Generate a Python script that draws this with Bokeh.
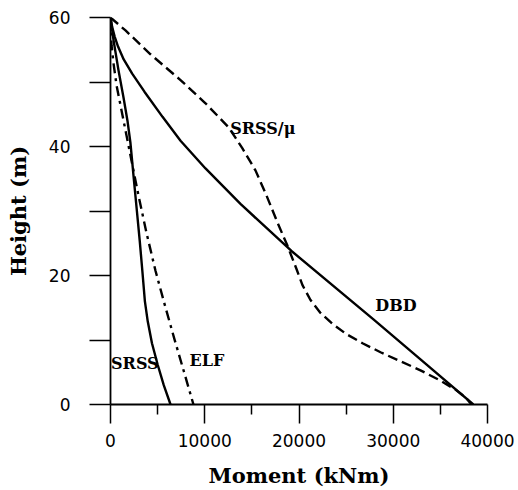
from bokeh.plotting import figure
from bokeh.models import Range1d, FixedTicker, ColumnDataSource
from bokeh.core.properties import value
from bokeh.embed import file_html
from bokeh.resources import INLINE

# Moment (kNm) vs height (m)
dbd_y = [60, 58.5, 57.0, 55.5, 53.5, 51.3, 48.5, 44.6, 40.9, 36.6, 31.1, 23.8, 13.2, 7.0, 0]
dbd_x = [0, 180, 450, 800, 1400, 2300, 3600, 5520, 7430, 10080, 13790, 19200, 27900, 32890, 38500]

srss_mu_y = [60, 58.0, 54.3, 50.3, 46.7, 43.0, 39.7, 36.3, 32.4, 28.2, 24.6, 21.0, 18.5, 16.2,
             14.2, 12.5, 10.9, 9.5, 8.1, 6.7, 5.3, 3.7, 2.3, 1.1, 0]
srss_mu_x = [0, 1590, 4240, 7430, 10080, 12520, 14000, 15380, 16550, 17720, 18780, 19735, 20370, 21220,
             22280, 23550, 25040, 26740, 28650, 30770, 32890, 35010, 36600, 37670, 38300]

srss_y = [60, 56.5, 51.8, 47.6, 44.0, 40.5, 35.5, 30.0, 25.4, 20.7, 16.0, 12.9, 9.5, 6.2, 3.0, 0]
srss_x = [0, 320, 850, 1380, 1800, 2120, 2440, 2800, 3100, 3380, 3650, 3950, 4400, 5000, 5650, 6370]

elf_y = [60, 55.7, 52.9, 49.5, 46.4, 42.5, 37.8, 32.4, 26.6, 20.7, 15.6, 10.1, 4.8, 0]
elf_x = [0, 110, 320, 640, 1060, 1590, 2230, 2970, 3820, 4780, 5730, 6790, 7850, 8800]

label_text = ["SRSS/μ", "DBD", "SRSS", "ELF"]
label_x = [12700, 28100, 60, 8380]
label_y = [42.8, 15.3, 6.3, 6.85]

x_ticks = [0, 10000, 20000, 30000, 40000]
x_tick_labels = ["0", "10000", "20000", "30000", "40000"]
x_minor = [5000, 15000, 25000, 35000]
y_ticks = [0, 20, 40, 60]
y_tick_labels = ["0", "20", "40", "60"]
y_minor = [10, 30, 50]

p = figure(width=518, height=490, x_range=Range1d(0, 40000), y_range=Range1d(0, 60),
           output_backend="svg", toolbar_location=None,
           min_border_left=110, min_border_right=31, min_border_top=17, min_border_bottom=86)
p.outline_line_color = None
p.xgrid.visible = False
p.ygrid.visible = False
p.background_fill_color = "white"
p.border_fill_color = "white"

common = dict(line_color="black", line_width=2.4, line_join="round")
p.line(dbd_x, dbd_y, **common)
p.line(srss_mu_x, srss_mu_y, line_dash="10 5", **common)
p.line(srss_x, srss_y, **common)
p.line(elf_x, elf_y, line_dash="10 5 3 5", **common)

src = ColumnDataSource(dict(x=label_x, y=label_y, t=label_text))
p.text(x="x", y="y", text="t", source=src, text_font=value("DejaVu Serif"),
       text_font_style="bold", text_font_size="16px", text_baseline="middle",
       text_align="left", text_color="black")

xa = p.xaxis[0]
xa.ticker = FixedTicker(ticks=x_ticks, minor_ticks=x_minor)
xa.major_label_overrides = {t: l for t, l in zip(x_ticks, x_tick_labels)}
xa.axis_label = "Moment (kNm)"
ya = p.yaxis[0]
ya.ticker = FixedTicker(ticks=y_ticks, minor_ticks=y_minor)
ya.major_label_overrides = {t: l for t, l in zip(y_ticks, y_tick_labels)}
ya.axis_label = "Height (m)"

for ax in (xa, ya):
    ax.axis_line_color = "black"
    ax.axis_line_width = 1.8
    ax.major_tick_line_color = "black"
    ax.minor_tick_line_color = "black"
    ax.major_tick_line_width = 1.5
    ax.minor_tick_line_width = 1.5
    ax.major_tick_in = 0
    ax.minor_tick_in = 0
    ax.major_label_text_font = "DejaVu Sans"
    ax.major_label_text_font_size = "17px"
    ax.major_label_text_color = "black"
    ax.axis_label_text_font = "DejaVu Serif"
    ax.axis_label_text_font_style = "bold"
    ax.axis_label_text_font_size = "21px"
    ax.axis_label_text_color = "black"

xa.major_tick_out = 19
xa.minor_tick_out = 10
xa.major_label_standoff = 10
xa.axis_label_standoff = 13
ya.major_tick_out = 21
ya.minor_tick_out = 21
ya.major_label_standoff = 19
ya.axis_label_standoff = 15

open("out.html", "w").write(file_html(p, INLINE))
